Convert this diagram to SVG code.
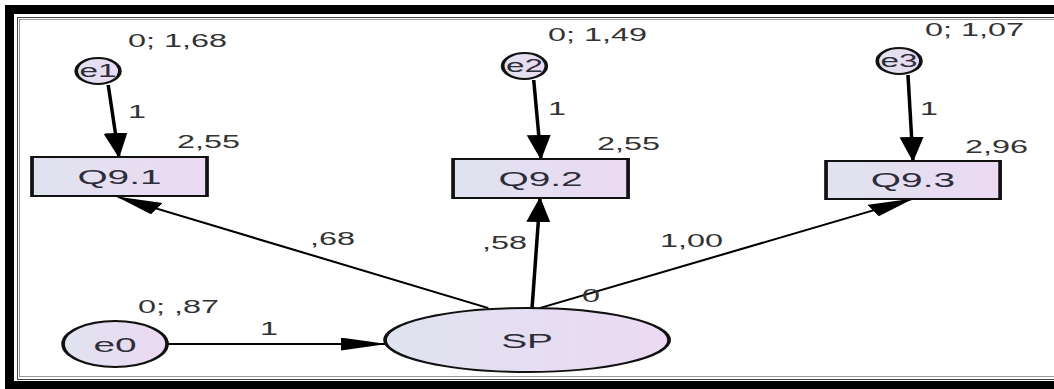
<svg xmlns="http://www.w3.org/2000/svg" width="1054" height="389" viewBox="0 0 1054 389">
<defs>
<linearGradient id="fill" x1="0" y1="0" x2="1" y2="0">
<stop offset="0" stop-color="#dfe3ef"/>
<stop offset="1" stop-color="#ecd9f3"/>
</linearGradient>
<marker id="arr" markerUnits="userSpaceOnUse" markerWidth="27" markerHeight="14" refX="24" refY="6.5" orient="auto">
<path d="M0,0 L25,6.5 L0,13 z" fill="#000"/>
</marker>
<style>
.node{fill:url(#fill);stroke:#111;stroke-width:2}
.box{fill:url(#fill);stroke:#111;stroke-width:2}
.ntxt{font-family:"Liberation Sans",Arial,sans-serif;fill:#2e2e3a;text-anchor:middle}
.lbl{font-family:"Liberation Sans",Arial,sans-serif;font-size:17.5px;fill:#333}
.edge{stroke:#000;stroke-width:1.9;fill:none;marker-end:url(#arr)}
</style>
</defs>
<rect x="0" y="0" width="1054" height="389" fill="#fff"/>
<g id="frame">
<rect x="5" y="5" width="1060" height="390" fill="#000"/>
<rect x="14" y="14" width="1050" height="367" fill="#fff"/>
<rect x="17.5" y="17.5" width="1050" height="362" fill="none" stroke="#444" stroke-width="1"/>
<rect x="19.5" y="19.5" width="1050" height="357" fill="none" stroke="#999" stroke-width="1"/>
</g>
<g transform="scale(1.85,1)">
<g id="connectors">
<line class="edge" x1="58.5" y1="85" x2="64.3" y2="157"/>
<line class="edge" x1="288.5" y1="80" x2="292.4" y2="159"/>
<line class="edge" x1="490.8" y1="75" x2="493.5" y2="161"/>
<line class="edge" x1="90.3" y1="344" x2="208.1" y2="344"/>
<line class="edge" x1="263.8" y1="308" x2="63.8" y2="197"/>
<line class="edge" x1="287.6" y1="308" x2="291.9" y2="198"/>
<line class="edge" x1="291.9" y1="308" x2="493" y2="199"/>
</g>
<g id="e1">
<ellipse class="node" cx="53" cy="71" rx="11.8" ry="13"/>
<text class="ntxt" x="53" y="77.5" font-size="18">e1</text>
<text class="lbl" x="69.2" y="47">0; 1,68</text>
</g>
<g id="e2">
<ellipse class="node" cx="283.5" cy="66" rx="11.8" ry="13"/>
<text class="ntxt" x="283.5" y="72.5" font-size="18">e2</text>
<text class="lbl" x="296.2" y="41">0; 1,49</text>
</g>
<g id="e3">
<ellipse class="node" cx="486" cy="61" rx="11.8" ry="13"/>
<text class="ntxt" x="486" y="67.5" font-size="18">e3</text>
<text class="lbl" x="500" y="36">0; 1,07</text>
</g>
<g id="Q9.1">
<rect class="box" x="17.3" y="157" width="94.6" height="39"/>
<text class="ntxt" x="64.6" y="184" font-size="21">Q9.1</text>
<text class="lbl" x="95.7" y="148">2,55</text>
</g>
<g id="Q9.2">
<rect class="box" x="244.9" y="159" width="94.6" height="39"/>
<text class="ntxt" x="292.2" y="186" font-size="21">Q9.2</text>
<text class="lbl" x="322.7" y="150">2,55</text>
</g>
<g id="Q9.3">
<rect class="box" x="446.5" y="161" width="94.1" height="38"/>
<text class="ntxt" x="493.5" y="187" font-size="21">Q9.3</text>
<text class="lbl" x="521.6" y="153">2,96</text>
</g>
<g id="e0">
<ellipse class="node" cx="62.2" cy="344" rx="28.1" ry="23"/>
<text class="ntxt" x="62.2" y="352" font-size="21">e0</text>
<text class="lbl" x="74.6" y="313">0; ,87</text>
</g>
<g id="SP">
<ellipse class="node" cx="284.9" cy="340" rx="76.8" ry="32"/>
<text class="ntxt" x="284.9" y="348" font-size="21">SP</text>
</g>
<g id="labels">
<text class="lbl" x="69.2" y="118">1</text>
<text class="lbl" x="296.2" y="115">1</text>
<text class="lbl" x="497.3" y="115">1</text>
<text class="lbl" x="140.5" y="335">1</text>
<text class="lbl" x="167.6" y="245">,68</text>
<text class="lbl" x="260.5" y="249">,58</text>
<text class="lbl" x="356.8" y="247">1,00</text>
<text class="lbl" x="314.6" y="302">0</text>
</g>
</g>
</svg>
